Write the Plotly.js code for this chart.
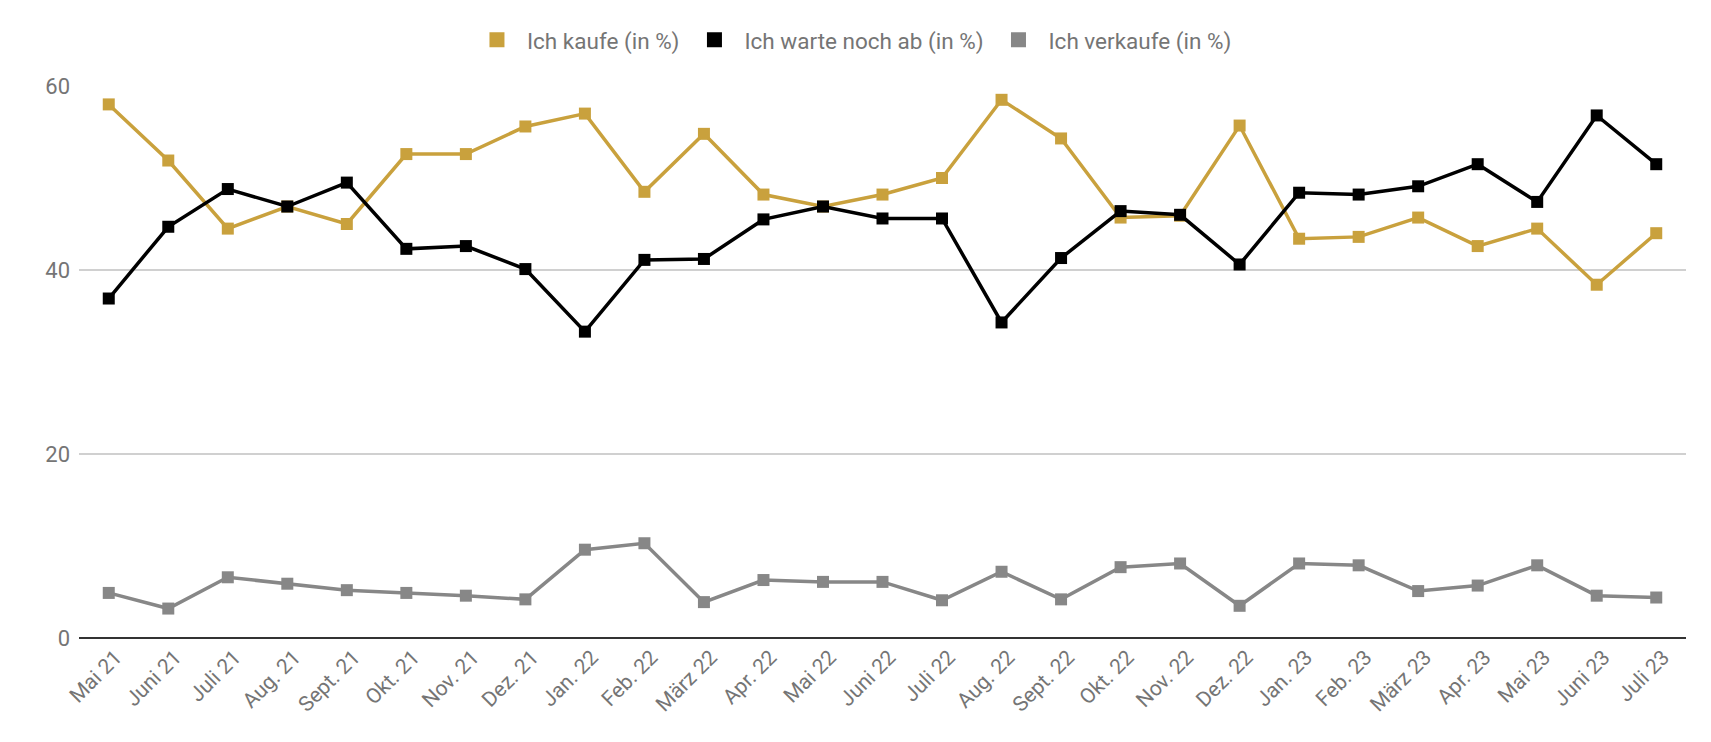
<!DOCTYPE html>
<html>
<head>
<meta charset="utf-8">
<script src="https://cdn.plot.ly/plotly-3.0.1.min.js"></script>
<style>
  html, body { margin: 0; padding: 0; background: #fff; }
  #chart { width: 1711px; height: 742px; }
</style>
</head>
<body>
<div id="chart"></div>
<script>
// Monate (Kategorien der x-Achse)
const months = [
    'Mai 21', 'Juni 21', 'Juli 21', 'Aug. 21', 'Sept. 21', 'Okt. 21', 'Nov. 21', 'Dez. 21',
    'Jan. 22', 'Feb. 22', 'März 22', 'Apr. 22', 'Mai 22', 'Juni 22', 'Juli 22', 'Aug. 22',
    'Sept. 22', 'Okt. 22', 'Nov. 22', 'Dez. 22', 'Jan. 23', 'Feb. 23', 'März 23', 'Apr. 23',
    'Mai 23', 'Juni 23', 'Juli 23'
];

// Werte in %
const kaufe = [
    58.0, 51.9, 44.5, 46.9, 45.0, 52.6, 52.6, 55.6,
    57.0, 48.5, 54.8, 48.2, 46.9, 48.2, 50.0, 58.5,
    54.3, 45.7, 45.9, 55.7, 43.4, 43.6, 45.7, 42.6,
    44.5, 38.4, 44.0
];
const warte = [
    36.9, 44.7, 48.8, 46.9, 49.5, 42.3, 42.6, 40.1,
    33.3, 41.1, 41.2, 45.5, 46.9, 45.6, 45.6, 34.3,
    41.3, 46.4, 46.0, 40.6, 48.4, 48.2, 49.1, 51.5,
    47.4, 56.8, 51.5
];
const verkaufe = [
    4.9, 3.2, 6.6, 5.9, 5.2, 4.9, 4.6, 4.2,
    9.6, 10.3, 3.9, 6.3, 6.1, 6.1, 4.1, 7.2,
    4.2, 7.7, 8.1, 3.5, 8.1, 7.9, 5.1, 5.7,
    7.9, 4.6, 4.4
];

const seriesNames = ['Ich kaufe (in %)', 'Ich warte noch ab (in %)', 'Ich verkaufe (in %)'];
const yTicks = [0, 20, 40, 60];

const colors = {
    kaufe: '#C9A13D',
    warte: '#000000',
    verkaufe: '#878787',
    text: '#757575',
    grid: '#D0D0D0',
    zero: '#333333'
};

function lineTrace(name, values, color) {
    return {
        type: 'scatter',
        mode: 'lines+markers',
        x: months,
        y: values,
        name: name,
        legendgroup: name,
        showlegend: false,
        line: { color: color, width: 3.5 },
        marker: { color: color, size: 12, symbol: 'square' }
    };
}

// Legend shows only the square symbol, like the original
function legendTrace(name, color) {
    return {
        type: 'scatter',
        mode: 'markers',
        x: [null],
        y: [null],
        name: name,
        legendgroup: name,
        showlegend: true,
        marker: { color: color, size: 15, symbol: 'square' }
    };
}

const traces = [
    lineTrace(seriesNames[0], kaufe, colors.kaufe),
    lineTrace(seriesNames[1], warte, colors.warte),
    lineTrace(seriesNames[2], verkaufe, colors.verkaufe),
    legendTrace(seriesNames[0], colors.kaufe),
    legendTrace(seriesNames[1], colors.warte),
    legendTrace(seriesNames[2], colors.verkaufe)
];

const layout = {
    width: 1711,
    height: 742,
    margin: { t: 86, r: 25, b: 104, l: 79 },
    paper_bgcolor: '#FFFFFF',
    plot_bgcolor: '#FFFFFF',
    font: { family: 'Roboto, sans-serif', color: colors.text, size: 20 },
    showlegend: true,
    legend: {
        orientation: 'h',
        x: 0.481,
        xanchor: 'center',
        y: 1.083,
        yanchor: 'middle',
        font: { size: 22.5, color: colors.text },
        itemwidth: 50,
        traceorder: 'normal'
    },
    xaxis: {
        type: 'category',
        range: [-0.5, months.length - 0.5],
        tickangle: -45,
        tickfont: { size: 21, color: colors.text },
        ticklabelshift: 7,
        ticklabelstandoff: 2,
        showgrid: false,
        showline: false,
        zeroline: false,
        ticks: '',
        fixedrange: true
    },
    yaxis: {
        range: [0, 60],
        tickvals: yTicks,
        ticktext: yTicks.map(String),
        tickfont: { size: 22, color: colors.text },
        gridcolor: colors.grid,
        gridwidth: 1.5,
        zeroline: true,
        zerolinecolor: colors.zero,
        zerolinewidth: 2,
        showline: false,
        ticks: '',
        ticklabelstandoff: 8,
        fixedrange: true
    }
};

Plotly.newPlot('chart', traces, layout, { displayModeBar: false, staticPlot: true });
</script>
</body>
</html>
